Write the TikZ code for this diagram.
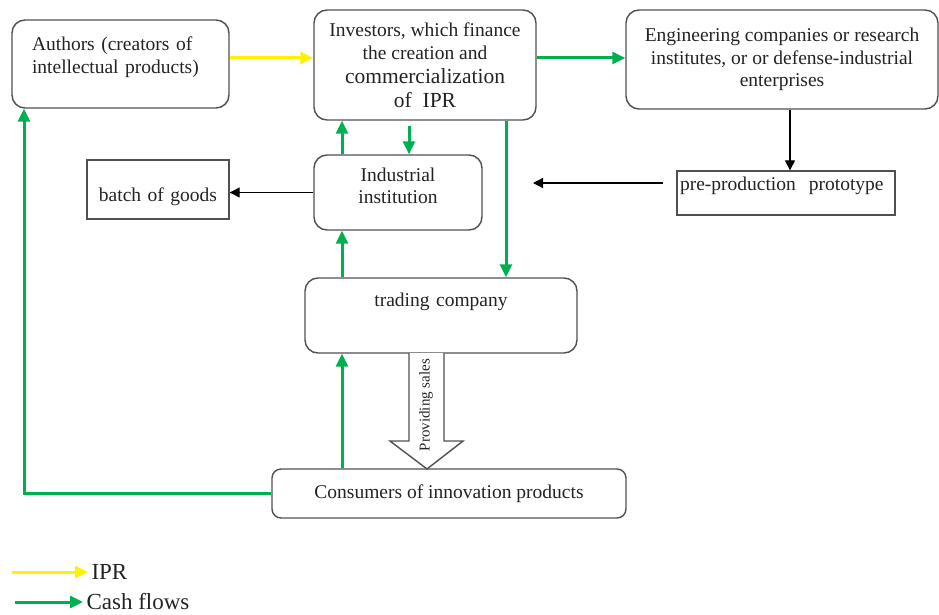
\documentclass[tikz,border=0pt]{standalone}
\usepackage{fontspec}
\setmainfont{Liberation Serif}
\usetikzlibrary{calc,arrows.meta}
\definecolor{boxgray}{RGB}{80,80,80}
\definecolor{textgray}{RGB}{35,35,35}
\definecolor{cashgreen}{RGB}{0,176,80}
\definecolor{ipryellow}{RGB}{255,242,0}

\begin{document}
\begin{tikzpicture}[x=1pt,y=-1pt,
    box/.style={draw=boxgray, line width=1.4pt, rounded corners=13pt, text=textgray, align=center,
      font=\fontsize{19.5}{22.5}\selectfont},
    plainbox/.style={box, rounded corners=0pt},
    cash/.style={-{Triangle[length=13pt,width=12pt]}, line width=3pt, draw=cashgreen},
    ipr/.style={-{Triangle[length=13pt,width=12pt]}, line width=3pt, draw=ipryellow},
    flow/.style={-{Triangle[length=10pt,width=10pt]}, line width=1.3pt, draw=black},
    legend/.style={text=textgray, font=\fontsize{23}{25}\selectfont}]
    \useasboundingbox (0,0) rectangle (939,615);
    % Boxes
    \node[box, align=left, text width=177pt, inner xsep=20pt, inner ysep=0pt, text height=31pt, text depth=57pt]
      (authors) at (120.5,64) {Authors (creators of\\intellectual products)};
    \node[box, minimum width=222pt, minimum height=110pt]
      (investors) at (425,65) {Investors, which finance\\the creation and\\[2pt]
      {\fontsize{21.5}{24}\selectfont commercialization}\\[1pt]{\fontsize{21.5}{24}\selectfont of\ \ IPR}};
    \node[box, minimum width=312pt, minimum height=99pt]
      (engineering) at (782,59.5) {Engineering companies or research\\institutes, or or defense-industrial\\enterprises};
    \node[box, minimum width=168pt, minimum height=75pt, text depth=14pt]
      (industrial) at (398,192.5) {Industrial\\institution};
    \node[plainbox, text width=136pt, inner xsep=3pt, inner ysep=0pt, text height=41pt, text depth=18pt]
      (batch) at (158,189.5) {batch of goods};
    \node[plainbox, align=left, text width=212pt, inner xsep=3pt, inner ysep=0pt, text height=19pt, text depth=25pt]
      (prototype) at (786,193) {pre-production\ \ prototype};
    \node[box, text width=262pt, inner xsep=5pt, inner ysep=0pt, text height=28pt, text depth=47pt]
      (trading) at (441,315.5) {trading company};
    \node[box, rounded corners=9pt, minimum width=354pt, minimum height=49pt]
      (consumers) at (449,493.5) {Consumers of innovation products};
    % Providing sales
    \draw[line width=1.4pt, draw=boxgray, fill=white]
      (409,353) -- (409,441) -- (390,441) -- (427,469) -- (463,441) -- (444,441) -- (444,353);
    \node[rotate=90, text=textgray, font=\fontsize{15}{17}\selectfont] (sales) at (426,405) {Providing sales};
    % IPR and cash flows
    \draw[ipr] ([yshift=6pt]authors.east) -- ([yshift=6pt]authors.east -| investors.west);
    \draw[cash] ([yshift=7pt]investors.east) -- ([yshift=7pt]investors.east -| engineering.west);
    \draw[cash] ([xshift=-56pt]industrial.north) -- ([xshift=-56pt]industrial.north |- investors.south);
    \draw[cash] ([xshift=-16pt,yshift=-5pt]investors.south) -- ([xshift=-16pt]investors.south |- industrial.north);
    \draw[cash] ([xshift=81pt]investors.south) -- ([xshift=81pt]investors.south |- trading.north);
    \draw[cash] ([xshift=-99pt]trading.north) -- ([xshift=-99pt]trading.north |- industrial.south);
    \draw[cash] ([xshift=-107pt]consumers.north) -- ([xshift=-107pt]consumers.north |- trading.south);
    \draw[cash] (consumers.west) -| ([xshift=-96.5pt]authors.south);
    % Goods
    \draw[flow] ([xshift=8pt]engineering.south) -- ([xshift=8pt]engineering.south |- prototype.north);
    \draw[flow] (industrial.west) -- (industrial.west -| batch.east);
    \coordinate (protoFrom) at (663,183);
    \coordinate (protoTo) at (533,183);
    \draw[flow] (protoFrom) -- (protoTo);
    % Legend
    \coordinate (iprStart) at (12,572);
    \node[legend, anchor=west] (iprKey) at (88,572) {IPR};
    \draw[ipr] (iprStart) -- (iprKey.west);
    \coordinate (cashStart) at (15,602);
    \node[legend, anchor=west] (cashKey) at (83,602) {Cash flows};
    \draw[cash] (cashStart) -- (cashKey.west);
\end{tikzpicture}
\end{document}
